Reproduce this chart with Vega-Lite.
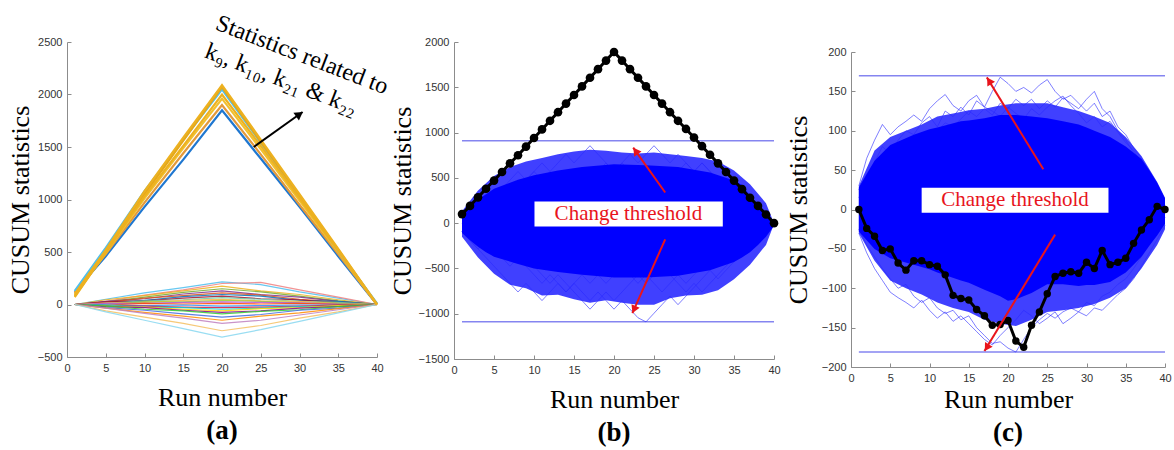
{
  "$schema": "https://vega.github.io/schema/vega-lite/v6.json",
  "background": "white",
  "padding": {"left": 7, "top": 11, "right": 2, "bottom": 5},
  "config": {
    "view": {"stroke": null},
    "axis": {
      "grid": false, "domainColor": "#8c8c8c", "tickColor": "#8c8c8c", "tickSize": -4, "labelPadding": 9,
      "labelColor": "#333333", "labelFont": "Liberation Sans", "labelFontSize": 11, "format": "d",
      "titleFont": "Liberation Serif", "titleFontSize": 26, "titleFontWeight": "normal", "titleColor": "#000000",
      "labelFlush": false, "labelOverlap": false
    },
    "title": {"font": "Liberation Serif", "fontSize": 27, "fontWeight": "bold", "color": "#000000", "orient": "bottom", "anchor": "middle", "offset": 8}
  },
  "datasets": {
    "a": [
      {"r":1,"T1":100,"T2":80,"T3":130,"T4":90,"T5":110,"T6":120,"T7":70,"L1":0,"L2":0,"L3":0,"L4":0,"L5":0,"L6":0,"L7":0,"L8":0,"L9":0,"L10":0,"L11":0,"L12":0,"L13":0,"L14":0,"L15":0,"L16":0,"L17":0,"L18":0,"L19":0,"L20":0,"L21":0,"L22":0,"L23":0,"L24":0},
      {"r":5,"T1":520,"T2":500,"T3":540,"T4":490,"T5":480,"T6":460,"T7":500,"L1":50,"L2":30,"L3":45,"L4":25,"L5":30,"L6":20,"L7":15,"L8":25,"L9":10,"L10":15,"L11":5,"L12":10,"L13":-5,"L14":-5,"L15":-10,"L16":-5,"L17":-15,"L18":-20,"L19":-15,"L20":-30,"L21":-35,"L22":-35,"L23":-60,"L24":-70},
      {"r":10,"T1":1080,"T2":1050,"T3":1080,"T4":1010,"T5":970,"T6":930,"T7":1030,"L1":110,"L2":90,"L3":85,"L4":70,"L5":55,"L6":60,"L7":40,"L8":35,"L9":35,"L10":20,"L11":25,"L12":10,"L13":10,"L14":-10,"L15":-15,"L16":-25,"L17":-25,"L18":-30,"L19":-45,"L20":-55,"L21":-75,"L22":-85,"L23":-120,"L24":-150},
      {"r":15,"T1":1590,"T2":1560,"T3":1570,"T4":1490,"T5":1440,"T6":1380,"T7":1510,"L1":160,"L2":140,"L3":130,"L4":115,"L5":100,"L6":85,"L7":75,"L8":60,"L9":45,"L10":40,"L11":25,"L12":20,"L13":5,"L14":-5,"L15":-25,"L16":-30,"L17":-45,"L18":-55,"L19":-60,"L20":-90,"L21":-110,"L22":-130,"L23":-180,"L24":-230},
      {"r":20,"T1":2090,"T2":2070,"T3":2050,"T4":1960,"T5":1900,"T6":1850,"T7":2000,"L1":215,"L2":200,"L3":175,"L4":150,"L5":130,"L6":110,"L7":95,"L8":80,"L9":65,"L10":50,"L11":40,"L12":25,"L13":10,"L14":-15,"L15":-30,"L16":-45,"L17":-60,"L18":-75,"L19":-90,"L20":-120,"L21":-150,"L22":-180,"L23":-250,"L24":-310},
      {"r":25,"T1":1570,"T2":1550,"T3":1540,"T4":1480,"T5":1430,"T6":1390,"T7":1510,"L1":190,"L2":210,"L3":130,"L4":120,"L5":95,"L6":90,"L7":80,"L8":55,"L9":50,"L10":35,"L11":30,"L12":20,"L13":5,"L14":-10,"L15":-25,"L16":-35,"L17":-40,"L18":-60,"L19":-65,"L20":-95,"L21":-110,"L22":-150,"L23":-200,"L24":-240},
      {"r":30,"T1":1050,"T2":1040,"T3":1030,"T4":990,"T5":950,"T6":930,"T7":1010,"L1":120,"L2":140,"L3":95,"L4":80,"L5":70,"L6":50,"L7":40,"L8":45,"L9":30,"L10":30,"L11":15,"L12":15,"L13":10,"L14":-5,"L15":-15,"L16":-20,"L17":-30,"L18":-35,"L19":-50,"L20":-55,"L21":-80,"L22":-100,"L23":-130,"L24":-160},
      {"r":35,"T1":530,"T2":520,"T3":510,"T4":500,"T5":480,"T6":460,"T7":510,"L1":60,"L2":70,"L3":45,"L4":35,"L5":30,"L6":25,"L7":30,"L8":15,"L9":20,"L10":10,"L11":10,"L12":5,"L13":0,"L14":-5,"L15":-5,"L16":-15,"L17":-10,"L18":-20,"L19":-20,"L20":-35,"L21":-40,"L22":-50,"L23":-70,"L24":-80},
      {"r":40,"T1":0,"T2":0,"T3":10,"T4":0,"T5":0,"T6":0,"T7":0,"L1":0,"L2":0,"L3":0,"L4":0,"L5":0,"L6":0,"L7":0,"L8":0,"L9":0,"L10":0,"L11":0,"L12":0,"L13":0,"L14":0,"L15":0,"L16":0,"L17":0,"L18":0,"L19":0,"L20":0,"L21":0,"L22":0,"L23":0,"L24":0}
    ],
    "b": [
      {"r":1,"k":100,"e1":95,"e2":-95,"e3":95,"f1":-95,"f2":-95,"f3":0},
      {"r":2,"k":190,"e1":190,"e2":0,"e3":190,"f1":-190,"f2":-190,"f3":-95},
      {"r":3,"k":285,"e1":95,"e2":95,"e3":285,"f1":-285,"f2":-285,"f3":-190},
      {"r":4,"k":380,"e1":190,"e2":0,"e3":380,"f1":-190,"f2":-380,"f3":-95},
      {"r":5,"k":470,"e1":285,"e2":95,"e3":285,"f1":-285,"f2":-475,"f3":-190},
      {"r":6,"k":565,"e1":380,"e2":190,"e3":380,"f1":-380,"f2":-570,"f3":-285},
      {"r":7,"k":660,"e1":285,"e2":285,"e3":475,"f1":-475,"f2":-665,"f3":-380},
      {"r":8,"k":750,"e1":380,"e2":190,"e3":570,"f1":-380,"f2":-760,"f3":-285},
      {"r":9,"k":845,"e1":475,"e2":285,"e3":475,"f1":-475,"f2":-665,"f3":-380},
      {"r":10,"k":940,"e1":570,"e2":380,"e3":570,"f1":-570,"f2":-760,"f3":-475},
      {"r":11,"k":1035,"e1":475,"e2":285,"e3":665,"f1":-665,"f2":-855,"f3":-570},
      {"r":12,"k":1130,"e1":570,"e2":380,"e3":570,"f1":-570,"f2":-760,"f3":-665},
      {"r":13,"k":1225,"e1":665,"e2":475,"e3":475,"f1":-665,"f2":-665,"f3":-570},
      {"r":14,"k":1320,"e1":760,"e2":380,"e3":570,"f1":-760,"f2":-760,"f3":-665},
      {"r":15,"k":1415,"e1":665,"e2":475,"e3":475,"f1":-665,"f2":-665,"f3":-760},
      {"r":16,"k":1510,"e1":760,"e2":570,"e3":380,"f1":-760,"f2":-570,"f3":-855},
      {"r":17,"k":1605,"e1":855,"e2":475,"e3":475,"f1":-855,"f2":-665,"f3":-950},
      {"r":18,"k":1700,"e1":760,"e2":570,"e3":570,"f1":-760,"f2":-570,"f3":-855},
      {"r":19,"k":1795,"e1":665,"e2":665,"e3":475,"f1":-855,"f2":-665,"f3":-760},
      {"r":20,"k":1890,"e1":570,"e2":570,"e3":380,"f1":-950,"f2":-570,"f3":-855},
      {"r":21,"k":1795,"e1":665,"e2":665,"e3":285,"f1":-855,"f2":-475,"f3":-760},
      {"r":22,"k":1700,"e1":570,"e2":760,"e3":380,"f1":-950,"f2":-570,"f3":-665},
      {"r":23,"k":1605,"e1":475,"e2":665,"e3":475,"f1":-1045,"f2":-665,"f3":-570},
      {"r":24,"k":1510,"e1":570,"e2":760,"e3":380,"f1":-1090,"f2":-570,"f3":-665},
      {"r":25,"k":1415,"e1":475,"e2":855,"e3":285,"f1":-995,"f2":-665,"f3":-570},
      {"r":26,"k":1320,"e1":380,"e2":760,"e3":380,"f1":-900,"f2":-760,"f3":-475},
      {"r":27,"k":1225,"e1":475,"e2":665,"e3":475,"f1":-805,"f2":-665,"f3":-570},
      {"r":28,"k":1130,"e1":380,"e2":760,"e3":570,"f1":-900,"f2":-570,"f3":-665},
      {"r":29,"k":1040,"e1":285,"e2":665,"e3":665,"f1":-805,"f2":-665,"f3":-760},
      {"r":30,"k":945,"e1":380,"e2":570,"e3":570,"f1":-710,"f2":-570,"f3":-665},
      {"r":31,"k":850,"e1":285,"e2":665,"e3":665,"f1":-615,"f2":-475,"f3":-760},
      {"r":32,"k":755,"e1":190,"e2":570,"e3":570,"f1":-520,"f2":-380,"f3":-665},
      {"r":33,"k":660,"e1":285,"e2":475,"e3":475,"f1":-615,"f2":-475,"f3":-570},
      {"r":34,"k":565,"e1":190,"e2":380,"e3":380,"f1":-520,"f2":-380,"f3":-475},
      {"r":35,"k":470,"e1":95,"e2":475,"e3":285,"f1":-425,"f2":-285,"f3":-380},
      {"r":36,"k":375,"e1":190,"e2":380,"e3":190,"f1":-330,"f2":-190,"f3":-285},
      {"r":37,"k":280,"e1":95,"e2":285,"e3":285,"f1":-235,"f2":-285,"f3":-190},
      {"r":38,"k":190,"e1":0,"e2":190,"e3":190,"f1":-140,"f2":-190,"f3":-95},
      {"r":39,"k":95,"e1":95,"e2":95,"e3":95,"f1":-45,"f2":-95,"f3":-50},
      {"r":40,"k":0,"e1":0,"e2":0,"e3":0,"f1":0,"f2":0,"f3":0}
    ],
    "bo": [
      {"r":1,"v":130,"v2":-150},{"r":3,"v":360,"v2":-380},{"r":5,"v":520,"v2":-560},{"r":7,"v":620,"v2":-680},
      {"r":9,"v":680,"v2":-720},{"r":11,"v":720,"v2":-800},{"r":13,"v":760,"v2":-790},{"r":15,"v":790,"v2":-840},
      {"r":17,"v":810,"v2":-880},{"r":19,"v":800,"v2":-850},{"r":21,"v":780,"v2":-880},{"r":23,"v":770,"v2":-900},
      {"r":25,"v":780,"v2":-900},{"r":27,"v":760,"v2":-830},{"r":29,"v":740,"v2":-800},{"r":31,"v":720,"v2":-790},
      {"r":33,"v":680,"v2":-740},{"r":35,"v":580,"v2":-620},{"r":37,"v":430,"v2":-460},{"r":39,"v":220,"v2":-240},{"r":40,"v":0,"v2":-10}
    ],
    "bc": [
      {"r":1,"v":100,"v2":-110},{"r":2,"v":180,"v2":-190},{"r":3,"v":260,"v2":-260},{"r":4,"v":320,"v2":-320},
      {"r":5,"v":380,"v2":-370},{"r":8,"v":480,"v2":-450},{"r":10,"v":530,"v2":-500},{"r":13,"v":580,"v2":-540},
      {"r":16,"v":620,"v2":-570},{"r":20,"v":650,"v2":-600},{"r":24,"v":640,"v2":-600},{"r":28,"v":620,"v2":-580},
      {"r":32,"v":560,"v2":-520},{"r":35,"v":470,"v2":-430},{"r":36,"v":420,"v2":-380},{"r":37,"v":300,"v2":-320},
      {"r":38,"v":200,"v2":-240},{"r":39,"v":100,"v2":-150},{"r":40,"v":0,"v2":-30}
    ],
    "c": [
      {"r":1,"k":0,"u1":25,"u2":15,"u3":30,"l1":-25,"l2":-30},
      {"r":2,"k":-24,"u1":45,"u2":35,"u3":65,"l1":-45,"l2":-55},
      {"r":3,"k":-34,"u1":60,"u2":55,"u3":88,"l1":-60,"l2":-75},
      {"r":4,"k":-52,"u1":80,"u2":45,"u3":108,"l1":-75,"l2":-90},
      {"r":5,"k":-50,"u1":70,"u2":65,"u3":95,"l1":-88,"l2":-105},
      {"r":6,"k":-68,"u1":88,"u2":75,"u3":105,"l1":-100,"l2":-112},
      {"r":7,"k":-77,"u1":100,"u2":68,"u3":112,"l1":-95,"l2":-118},
      {"r":8,"k":-65,"u1":95,"u2":85,"u3":120,"l1":-110,"l2":-125},
      {"r":9,"k":-65,"u1":110,"u2":95,"u3":112,"l1":-118,"l2":-115},
      {"r":10,"k":-70,"u1":118,"u2":88,"u3":128,"l1":-112,"l2":-128},
      {"r":11,"k":-72,"u1":105,"u2":100,"u3":138,"l1":-125,"l2":-138},
      {"r":12,"k":-83,"u1":125,"u2":110,"u3":146,"l1":-132,"l2":-130},
      {"r":13,"k":-109,"u1":118,"u2":105,"u3":132,"l1":-128,"l2":-142},
      {"r":14,"k":-113,"u1":130,"u2":115,"u3":125,"l1":-140,"l2":-135},
      {"r":15,"k":-115,"u1":120,"u2":125,"u3":138,"l1":-135,"l2":-145},
      {"r":16,"k":-127,"u1":138,"u2":118,"u3":145,"l1":-150,"l2":-155},
      {"r":17,"k":-135,"u1":130,"u2":128,"u3":130,"l1":-160,"l2":-165},
      {"r":18,"k":-147,"u1":150,"u2":120,"u3":125,"l1":-170,"l2":-172},
      {"r":19,"k":-146,"u1":168,"u2":135,"u3":118,"l1":-168,"l2":-160},
      {"r":20,"k":-141,"u1":160,"u2":128,"u3":130,"l1":-176,"l2":-150},
      {"r":21,"k":-167,"u1":150,"u2":140,"u3":122,"l1":-181,"l2":-140},
      {"r":22,"k":-175,"u1":155,"u2":132,"u3":115,"l1":-165,"l2":-128},
      {"r":23,"k":-147,"u1":148,"u2":140,"u3":128,"l1":-150,"l2":-135},
      {"r":24,"k":-130,"u1":158,"u2":128,"u3":120,"l1":-140,"l2":-145},
      {"r":25,"k":-107,"u1":165,"u2":138,"u3":130,"l1":-132,"l2":-138},
      {"r":26,"k":-85,"u1":150,"u2":130,"u3":138,"l1":-138,"l2":-130},
      {"r":27,"k":-81,"u1":140,"u2":142,"u3":144,"l1":-130,"l2":-145},
      {"r":28,"k":-79,"u1":145,"u2":135,"u3":132,"l1":-125,"l2":-138},
      {"r":29,"k":-81,"u1":135,"u2":128,"u3":122,"l1":-130,"l2":-130},
      {"r":30,"k":-67,"u1":125,"u2":140,"u3":110,"l1":-118,"l2":-135},
      {"r":31,"k":-75,"u1":135,"u2":150,"u3":118,"l1":-122,"l2":-125},
      {"r":32,"k":-52,"u1":118,"u2":128,"u3":105,"l1":-110,"l2":-128},
      {"r":33,"k":-70,"u1":125,"u2":118,"u3":112,"l1":-105,"l2":-118},
      {"r":34,"k":-67,"u1":105,"u2":100,"u3":98,"l1":-95,"l2":-108},
      {"r":35,"k":-62,"u1":95,"u2":88,"u3":85,"l1":-88,"l2":-100},
      {"r":36,"k":-43,"u1":78,"u2":72,"u3":75,"l1":-75,"l2":-88},
      {"r":37,"k":-26,"u1":65,"u2":58,"u3":60,"l1":-60,"l2":-72},
      {"r":38,"k":-13,"u1":48,"u2":40,"u3":45,"l1":-45,"l2":-55},
      {"r":39,"k":4,"u1":28,"u2":22,"u3":25,"l1":-28,"l2":-38},
      {"r":40,"k":0,"u1":5,"u2":0,"u3":3,"l1":-10,"l2":-20}
    ],
    "co": [
      {"r":1,"v":30,"v2":-30},{"r":3,"v":75,"v2":-65},{"r":5,"v":92,"v2":-90},{"r":7,"v":100,"v2":-100},
      {"r":9,"v":108,"v2":-108},{"r":11,"v":118,"v2":-118},{"r":13,"v":122,"v2":-125},{"r":15,"v":126,"v2":-130},
      {"r":17,"v":128,"v2":-140},{"r":19,"v":132,"v2":-145},{"r":21,"v":135,"v2":-148},{"r":23,"v":135,"v2":-140},
      {"r":25,"v":135,"v2":-130},{"r":27,"v":130,"v2":-128},{"r":29,"v":125,"v2":-125},{"r":31,"v":118,"v2":-120},
      {"r":33,"v":110,"v2":-112},{"r":35,"v":92,"v2":-100},{"r":37,"v":68,"v2":-75},{"r":39,"v":35,"v2":-45},{"r":40,"v":15,"v2":-25}
    ],
    "cc": [
      {"r":1,"v":28,"v2":-28},{"r":3,"v":62,"v2":-50},{"r":5,"v":82,"v2":-62},{"r":8,"v":95,"v2":-70},
      {"r":10,"v":102,"v2":-76},{"r":11,"v":104,"v2":-80},{"r":14,"v":112,"v2":-90},{"r":15,"v":113,"v2":-93},
      {"r":17,"v":116,"v2":-102},{"r":19,"v":120,"v2":-110},{"r":20,"v":120,"v2":-116},{"r":21,"v":120,"v2":-114},
      {"r":23,"v":118,"v2":-106},{"r":25,"v":116,"v2":-95},{"r":27,"v":112,"v2":-95},{"r":29,"v":108,"v2":-97},
      {"r":30,"v":104,"v2":-96},{"r":31,"v":100,"v2":-96},{"r":33,"v":92,"v2":-92},{"r":35,"v":80,"v2":-80},
      {"r":37,"v":64,"v2":-60},{"r":38,"v":50,"v2":-46},{"r":39,"v":34,"v2":-33},{"r":40,"v":14,"v2":-18}
    ]
  },
  "bounds": "flush",
  "spacing": 77,
  "hconcat": [
    {
      "width": 310, "height": 315,
      "title": {"text": "(a)"},
      "encoding": {
        "x": {"field": "r", "type": "quantitative", "scale": {"domain": [0, 40]}, "axis": {"title": "Run number", "values": [0,5,10,15,20,25,30,35,40], "titlePadding": 11}},
        "y": {"field": "v", "type": "quantitative", "scale": {"domain": [-500, 2500]}, "axis": {"title": "CUSUM statistics", "values": [-500,0,500,1000,1500,2000,2500], "titlePadding": 4}}
      },
      "layer": [
        {
          "data": {"name": "a"},
          "transform": [{"fold": ["L1","L2","L3","L4","L5","L6","L7","L8","L9","L10","L11","L12","L13","L14","L15","L16","L17","L18","L19","L20","L21","L22","L23","L24"], "as": ["s","v"]}],
          "mark": {"type": "line", "strokeWidth": 1.2, "opacity": 0.85},
          "encoding": {
            "color": {"field": "s", "type": "nominal", "legend": null,
              "scale": {"domain": ["T1","T2","T3","T4","T5","T6","T7","L1","L2","L3","L4","L5","L6","L7","L8","L9","L10","L11","L12","L13","L14","L15","L16","L17","L18","L19","L20","L21","L22","L23","L24"],
                        "range": ["#EDB120","#E6A817","#4DBEEE","#F2C12E","#E39A3B","#1F77D0","#EDB120","#4DBEEE","#F08080","#EDB120","#77AC30","#7E2F8E","#D95319","#0072BD","#A2142F","#66CDAA","#FFB347","#9ACD32","#BA55D3","#FF4500","#1E90FF","#DC143C","#00CED1","#FFD700","#8B008B","#32CD32","#4169E1","#FF8C00","#C080C0","#F4C060","#87D7F0"]}}
          }
        },
        {
          "data": {"name": "a"},
          "transform": [{"fold": ["T6","T5","T4","T3","T2","T7","T1"], "as": ["s","v"]}],
          "mark": {"type": "line", "strokeWidth": 2.2},
          "encoding": {
            "color": {"field": "s", "type": "nominal", "legend": null}
          }
        },
        {
          "data": {"values": [{"id": "a", "r": 24.1, "v": 1500}, {"id": "a", "r": 30.4, "v": 1833}]},
          "mark": {"type": "line", "color": "#000000", "strokeWidth": 2},
          "encoding": {"detail": {"field": "id"}}
        },
        {
          "data": {"values": [{"r": 30.0, "v": 1811, "a": 54.5}]},
          "mark": {"type": "point", "shape": "triangle-up", "filled": true, "color": "#000000", "opacity": 1, "size": 90},
          "encoding": {"angle": {"field": "a", "type": "quantitative", "scale": null}}
        },
        {
          "data": {"values": [{"r": 19.0, "v": 2624, "t": "Statistics related to\nk₉, k₁₀, k₂₁ & k₂₂"}]},
          "mark": {"type": "text", "font": "Liberation Serif", "fontSize": 24, "align": "left", "baseline": "alphabetic", "angle": 21, "lineBreak": "\n", "lineHeight": 30, "color": "#000000"},
          "encoding": {"text": {"field": "t"}}
        }
      ]
    },
    {
      "width": 320, "height": 317,
      "title": {"text": "(b)"},
      "encoding": {
        "x": {"field": "r", "type": "quantitative", "scale": {"domain": [0, 40]}, "axis": {"title": "Run number", "values": [0,5,10,15,20,25,30,35,40], "titlePadding": 11}},
        "y": {"field": "v", "type": "quantitative", "scale": {"domain": [-1500, 2000]}, "axis": {"title": "CUSUM statistics", "values": [-1500,-1000,-500,0,500,1000,1500,2000], "titlePadding": 3}}
      },
      "layer": [
        {
          "data": {"values": [{"r": 1, "r2": 40, "v": 910}, {"r": 1, "r2": 40, "v": -1090}]},
          "mark": {"type": "rule", "color": "#8585f0", "strokeWidth": 1.5},
          "encoding": {"x2": {"field": "r2"}}
        },
        {
          "data": {"name": "bo"},
          "mark": {"type": "area", "color": "#0000ff", "opacity": 0.75},
          "encoding": {"y2": {"field": "v2"}}
        },
        {
          "data": {"name": "b"},
          "transform": [{"fold": ["e1","e2","e3","f1","f2","f3"], "as": ["s","v"]}],
          "mark": {"type": "line", "color": "#2a2aff", "opacity": 0.6, "strokeWidth": 1},
          "encoding": {"detail": {"field": "s"}}
        },
        {
          "data": {"name": "bc"},
          "mark": {"type": "area", "color": "#0000ff", "opacity": 1},
          "encoding": {"y2": {"field": "v2"}}
        },
        {
          "data": {"name": "b"},
          "transform": [{"fold": ["k"], "as": ["s","v"]}],
          "mark": {"type": "line", "color": "#000000", "strokeWidth": 3}
        },
        {
          "data": {"name": "b"},
          "transform": [{"fold": ["k"], "as": ["s","v"]}],
          "mark": {"type": "point", "shape": "circle", "filled": true, "color": "#000000", "opacity": 1, "size": 75}
        },
        {
          "data": {"values": [{"r": 10.06, "r2": 33.6, "v": 239, "v2": -36}]},
          "mark": {"type": "rect", "color": "#ffffff"},
          "encoding": {"x2": {"field": "r2"}, "y2": {"field": "v2"}}
        },
        {
          "data": {"values": [{"r": 21.8, "v": 101, "t": "Change threshold"}]},
          "mark": {"type": "text", "font": "Liberation Serif", "fontSize": 21, "color": "#e8141c", "align": "center", "baseline": "middle"},
          "encoding": {"text": {"field": "t"}}
        },
        {
          "data": {"values": [{"id": "u", "r": 26.4, "v": 338}, {"id": "u", "r": 22.4, "v": 833}, {"id": "d", "r": 26.4, "v": -179}, {"id": "d", "r": 22.3, "v": -994}]},
          "mark": {"type": "line", "color": "#e8141c", "strokeWidth": 2},
          "encoding": {"detail": {"field": "id"}}
        },
        {
          "data": {"values": [{"r": 22.7, "v": 797, "a": 324.6}, {"r": 22.5, "v": -954, "a": 204}]},
          "mark": {"type": "point", "shape": "triangle-up", "filled": true, "color": "#e8141c", "opacity": 1, "size": 80},
          "encoding": {"angle": {"field": "a", "type": "quantitative", "scale": null}}
        }
      ]
    },
    {
      "bounds": "flush",
      "spacing": 0,
      "vconcat": [
        {
          "width": 314, "height": 10,
          "data": {"values": []},
          "mark": {"type": "point", "opacity": 0}
        },
        {
          "width": 314, "height": 315,
          "title": {"text": "(c)"},
          "encoding": {
            "x": {"field": "r", "type": "quantitative", "scale": {"domain": [0, 40]}, "axis": {"title": "Run number", "values": [0,5,10,15,20,25,30,35,40], "titlePadding": 3}},
            "y": {"field": "v", "type": "quantitative", "scale": {"domain": [-200, 200]}, "axis": {"title": "CUSUM statistics", "values": [-200,-150,-100,-50,0,50,100,150,200], "titlePadding": 10}}
          },
          "layer": [
            {
              "data": {"values": [{"r": 1, "r2": 40, "v": 170}, {"r": 1, "r2": 40, "v": -181}]},
              "mark": {"type": "rule", "color": "#8585f0", "strokeWidth": 1.5},
              "encoding": {"x2": {"field": "r2"}}
            },
            {
              "data": {"name": "co"},
              "mark": {"type": "area", "color": "#0000ff", "opacity": 0.75},
              "encoding": {"y2": {"field": "v2"}}
            },
            {
              "data": {"name": "c"},
              "transform": [{"fold": ["u1","u2","u3","l1","l2"], "as": ["s","v"]}],
              "mark": {"type": "line", "color": "#2a2aff", "opacity": 0.6, "strokeWidth": 1},
              "encoding": {"detail": {"field": "s"}}
            },
            {
              "data": {"name": "cc"},
              "mark": {"type": "area", "color": "#0000ff", "opacity": 1},
              "encoding": {"y2": {"field": "v2"}}
            },
            {
              "data": {"name": "c"},
              "transform": [{"fold": ["k"], "as": ["s","v"]}],
              "mark": {"type": "line", "color": "#000000", "strokeWidth": 3}
            },
            {
              "data": {"name": "c"},
              "transform": [{"fold": ["k"], "as": ["s","v"]}],
              "mark": {"type": "point", "shape": "circle", "filled": true, "color": "#000000", "opacity": 1, "size": 55}
            },
            {
              "data": {"values": [{"r": 9.0, "r2": 32.8, "v": 27.6, "v2": -4.2}]},
              "mark": {"type": "rect", "color": "#ffffff"},
              "encoding": {"x2": {"field": "r2"}, "y2": {"field": "v2"}}
            },
            {
              "data": {"values": [{"r": 20.9, "v": 11.7, "t": "Change threshold"}]},
              "mark": {"type": "text", "font": "Liberation Serif", "fontSize": 21, "color": "#e8141c", "align": "center", "baseline": "middle"},
              "encoding": {"text": {"field": "t"}}
            },
            {
              "data": {"values": [{"id": "u", "r": 24.5, "v": 51}, {"id": "u", "r": 17.3, "v": 167.8}, {"id": "d", "r": 26.0, "v": -31.9}, {"id": "d", "r": 17.0, "v": -179.7}]},
              "mark": {"type": "line", "color": "#e8141c", "strokeWidth": 2},
              "encoding": {"detail": {"field": "id"}}
            },
            {
              "data": {"values": [{"r": 17.6, "v": 163.5, "a": 328.3}, {"r": 17.3, "v": -175.4, "a": 211.4}]},
              "mark": {"type": "point", "shape": "triangle-up", "filled": true, "color": "#e8141c", "opacity": 1, "size": 80},
              "encoding": {"angle": {"field": "a", "type": "quantitative", "scale": null}}
            }
          ]
        }
      ]
    }
  ]
}
